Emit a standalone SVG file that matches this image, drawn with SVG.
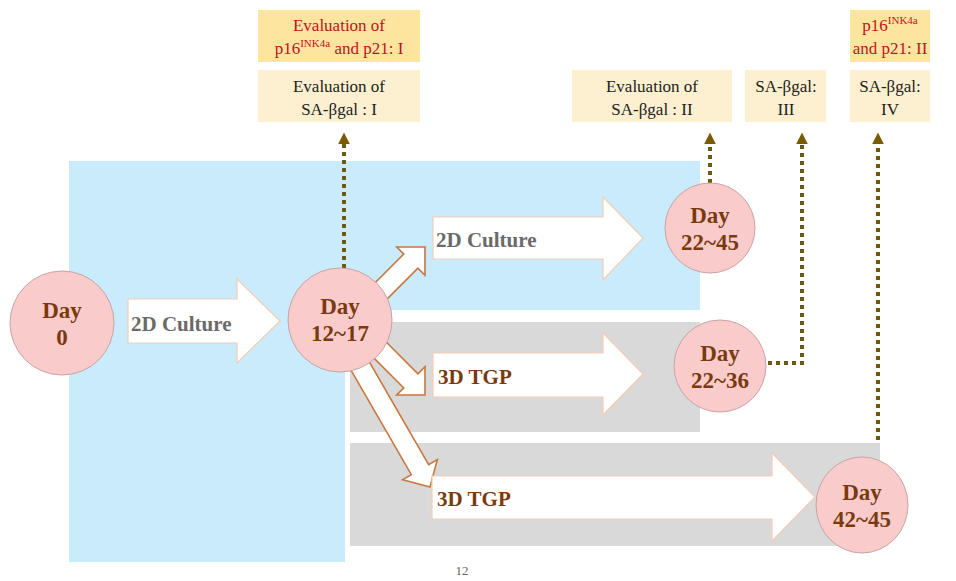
<svg xmlns="http://www.w3.org/2000/svg" width="956" height="581" viewBox="0 0 956 581">
<defs>
<style>
.bg{fill:#ffffff}
.blue{fill:#c9ebfb}
.gray{fill:#d9d9d9}
.boxA{fill:#fde49f}
.boxB{fill:#fdf0d0}
.t{font-size:17px;text-anchor:middle}
.red{fill:#c0141c}
.blk{fill:#222222}
.day{fill:#f9cbcb;stroke:#c9a3a3;stroke-width:1}
.dt{font-size:23px;font-weight:bold;fill:#7a3a0e;text-anchor:middle}
.harrow{fill:#ffffff;stroke:#f3cdb5;stroke-width:1.2}
.darrow{fill:#ffffff;stroke:#c8773e;stroke-width:1.6}
.lab{font-size:21px;font-weight:bold}
.g{fill:#6a6a6a}
.br{fill:#7a3a0e}
.dot{fill:none;stroke:#6b5a12;stroke-width:4;stroke-dasharray:4 4;marker-end:url(#ah)}
</style>
<marker id="ah" viewBox="0 0 10 10" refX="2" refY="5" markerWidth="3" markerHeight="3" orient="auto" markerUnits="strokeWidth">
<path d="M0,0 L10,5 L0,10 z" fill="#7a5a00"/>
</marker>
</defs>
<rect class="bg" x="0" y="0" width="956" height="581"/>
<g id="regions">
<rect class="blue" x="69" y="161" width="631" height="149"/>
<rect class="blue" x="69" y="161" width="276" height="401"/>
<rect class="gray" x="350" y="322" width="350" height="110"/>
<rect class="gray" x="350" y="443" width="530" height="103"/>
</g>
<g font-family="Liberation Serif, DejaVu Serif, serif">
<g id="connectors">
<path class="dot" d="M344,268 V142"/>
<path class="dot" d="M710,183 V142"/>
<path class="dot" d="M768,363 H802 V142"/>
<path class="dot" d="M878,440 V142"/>
<g id="arrow-2d-1">
<polygon class="harrow" points="128,299 237,299 237,279 280,321 237,363 237,343 128,343"/>
<text class="lab g" x="131" y="331">2D Culture</text>
</g>
<g id="arrow-diag-up">
<polygon class="darrow" transform="translate(425,247) rotate(-45)" points="0,0 -20,-20 -20,-10 -100,-10 -100,10 -20,10 -20,20"/>
</g>
<g id="arrow-diag-mid">
<polygon class="darrow" transform="translate(425,395) rotate(45)" points="0,0 -20,-20 -20,-10 -90,-10 -90,10 -20,10 -20,20"/>
</g>
<g id="arrow-diag-long">
<polygon class="darrow" transform="translate(430,487) rotate(60)" points="0,0 -20,-20 -20,-10 -165,-10 -165,10 -20,10 -20,20"/>
</g>
<g id="arrow-2d-2">
<polygon class="harrow" points="433,217 603,217 603,197 643,238 603,280 603,259 433,259"/>
<text class="lab g" x="436" y="247">2D Culture</text>
</g>
<g id="arrow-3d-1">
<polygon class="harrow" points="433,353 603,353 603,333 643,374 603,415 603,397 433,397"/>
<text class="lab br" x="438" y="384">3D TGP</text>
</g>
<g id="arrow-3d-2">
<polygon class="harrow" points="432,476 772,476 772,453 815,497 772,541 772,519 432,519"/>
<text class="lab br" x="437" y="506">3D TGP</text>
</g>
</g>
<g id="day0">
<circle class="day" cx="62" cy="323" r="52"/>
<text class="dt" x="62" y="318">Day</text>
<text class="dt" x="62" y="345">0</text>
</g>
<g id="day12">
<circle class="day" cx="340" cy="320" r="52"/>
<text class="dt" x="340" y="314">Day</text>
<text class="dt" x="340" y="341">12~17</text>
</g>
<g id="day22a">
<circle class="day" cx="710" cy="228" r="45"/>
<text class="dt" x="710" y="223">Day</text>
<text class="dt" x="710" y="250">22~45</text>
</g>
<g id="day22b">
<circle class="day" cx="720" cy="366" r="46"/>
<text class="dt" x="720" y="361">Day</text>
<text class="dt" x="720" y="388">22~36</text>
</g>
<g id="day42">
<ellipse class="day" cx="862" cy="505" rx="46" ry="48"/>
<text class="dt" x="862" y="500">Day</text>
<text class="dt" x="862" y="527">42~45</text>
</g>
<g id="box-p16-I">
<rect class="boxA" x="258" y="10" width="162" height="52"/>
<text class="t red" x="339" y="31">Evaluation of</text>
<text class="t red" x="339" y="54">p16<tspan font-size="11" dy="-7">INK4a</tspan><tspan dy="7"> and p21: I</tspan></text>
</g>
<g id="box-sa-I">
<rect class="boxB" x="258" y="70" width="162" height="52"/>
<text class="t blk" x="339" y="92">Evaluation of</text>
<text class="t blk" x="339" y="115">SA-βgal  : I</text>
</g>
<g id="box-sa-II">
<rect class="boxB" x="572" y="70" width="160" height="52"/>
<text class="t blk" x="652" y="92">Evaluation of</text>
<text class="t blk" x="652" y="115">SA-βgal : II</text>
</g>
<g id="box-sa-III">
<rect class="boxB" x="745" y="70" width="81" height="52"/>
<text class="t blk" x="786" y="92">SA-βgal:</text>
<text class="t blk" x="786" y="115">III</text>
</g>
<g id="box-sa-IV">
<rect class="boxB" x="850" y="70" width="80" height="52"/>
<text class="t blk" x="890" y="92">SA-βgal:</text>
<text class="t blk" x="890" y="115">IV</text>
</g>
<g id="box-p16-II">
<rect class="boxA" x="850" y="10" width="80" height="52"/>
<text class="t red" x="890" y="31">p16<tspan font-size="11" dy="-7">INK4a</tspan></text>
<text class="t red" x="890" y="54">and p21: II</text>
</g>
<text x="462" y="575" font-size="13" fill="#666" text-anchor="middle">12</text>
</g>
</svg>
